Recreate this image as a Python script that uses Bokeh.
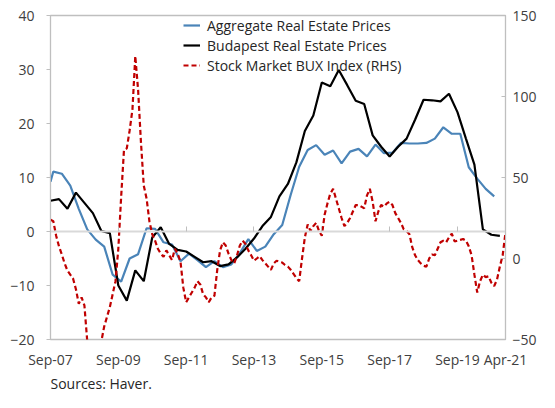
from bokeh.plotting import figure
from bokeh.models import (Range1d, LinearAxis, FixedTicker, Legend, LegendItem, Title)
from bokeh.embed import file_html
from bokeh.resources import INLINE

# ---- data (months counted from Sep-07) ----
tick_months = [0, 24, 48, 72, 96, 120, 144, 161]
tick_labels = ["Sep-07", "Sep-09", "Sep-11", "Sep-13", "Sep-15", "Sep-17", "Sep-19", "Apr-21"]
left_ticks = [-20, -10, 0, 10, 20, 30, 40]
right_ticks = [-50, 0, 50, 100, 150]

# Budapest real estate prices (quarterly, % y/y)
budapest = [5.7, 6.0, 4.2, 7.2, 5.3, 3.4, 0.1, -0.3, -10.0, -12.8,
            -7.2, -9.2, -1.1, 0.8, -2.3, -3.4, -3.7, -4.7, -5.7, -5.5,
            -6.4, -6.1, -4.8, -3.2, -1.3, 1.0, 2.7, 6.5, 8.8, 12.8,
            18.6, 21.5, 27.6, 26.9, 29.9, 27.1, 24.2, 23.6, 17.8, 15.7,
            13.9, 15.7, 17.2, 20.7, 24.4, 24.3, 24.1, 25.5, 22.1, 17.2,
            12.4, 0.4, -0.6, -0.8]
budapest_months = [3 * i for i in range(len(budapest))]

# Aggregate real estate prices (% y/y)
aggregate_months = [0, 1, 4, 7, 10, 13, 16, 19, 22, 25, 28, 31, 34, 37, 40, 43, 46, 49,
                    52, 55, 58, 61, 64, 67, 70, 73, 76, 79, 82, 85, 88, 91, 94, 97,
                    100, 103, 106, 109, 112, 115, 118, 121, 124, 127, 130, 133, 136,
                    139, 142, 145, 148, 151, 154, 157]
aggregate = [9.2, 11.1, 10.7, 8.5, 4.2, 0.4, -1.5, -2.8, -8.0, -9.3,
             -5.0, -4.2, 0.6, 0.5, -2.0, -2.4, -5.5, -4.1, -5.3, -6.6,
             -5.5, -6.6, -6.1, -4.0, -1.4, -3.6, -2.8, -0.5, 1.2, 6.8,
             12.0, 15.1, 16.0, 14.2, 15.0, 12.6, 14.8, 15.3, 13.9, 16.1,
             14.5, 14.6, 16.4, 16.3, 16.3, 16.4, 17.2, 19.3, 18.1, 18.1,
             11.9, 9.8, 7.9, 6.5]

# Stock market BUX index (monthly, % y/y, RHS)
bux = [24, 23, 14, 7.5, 2.5, -3, -7.5, -10, -12.5, -19,
       -28, -24, -29, -51, -52, -52, -52, -52, -51, -42,
       -36, -30, -22, -14, 6, 38, 67, 68, 79, 92,
       125, 104, 72, 45, 37, 23, 15, 11, 6, 3,
       1, 5, 2, -1, 6, 3, -2, -18, -27, -24,
       -21, -18, -14, -16, -22, -24, -27, -24, -23, -7,
       5, 10, 8, 3, -1, -3, 2, 8, 11, 9,
       5, 2, -1.4, 0, 1.5, -1, -3, -5, -7, -3,
       -1.4, -2, -2.5, -4, -5, -7, -9.5, -12, -14, 0,
       13, 21, 17, 20, 22, 17, 14, 27, 34, 40,
       43, 37, 31, 25, 20, 22, 25, 29, 33, 33,
       32, 31, 39, 43, 35, 23, 29, 33, 32, 34,
       35, 33, 28, 25, 22, 18, 17, 15, 7, 2,
       -1, -3, -4.5, -5, 0, 2.5, 2, 6, 10, 11,
       10, 13, 15.3, 10.5, 11, 11.5, 12, 11, 7.5, 2,
       -10, -21, -14, -10, -11.5, -11, -15, -17, -13, -5,
       2, 16]
bux_months = list(range(len(bux)))

FONT = "Open Sans"
TXT = "#404040"
GRAY = "#bfbfbf"
BLUE = "#4a84b8"
RED = "#c00000"

p = figure(width=539, height=392, output_backend="svg", toolbar_location=None,
           x_range=Range1d(tick_months[0], tick_months[-1]),
           y_range=Range1d(left_ticks[0], left_ticks[-1]),
           min_border_left=50, min_border_top=15, min_border_right=0, min_border_bottom=44)
p.extra_y_ranges = {"rhs": Range1d(right_ticks[0], right_ticks[-1])}
p.grid.visible = False
p.outline_line_color = GRAY
p.outline_line_width = 1.3
p.border_fill_color = "white"

xa = p.xaxis[0]
xa.ticker = FixedTicker(ticks=tick_months)
xa.major_label_overrides = {m: l for m, l in zip(tick_months, tick_labels)}
xa.major_tick_in = 0
xa.major_tick_out = 0
xa.minor_tick_in = 0
xa.minor_tick_out = 0
xa.axis_line_color = None
xa.major_label_standoff = 10
xa.major_label_text_font = FONT
xa.major_label_text_font_size = "14px"
xa.major_label_text_color = TXT

ya = p.yaxis[0]
ya.ticker = FixedTicker(ticks=left_ticks)
ya.major_tick_in = 0
ya.major_tick_out = 4
ya.minor_tick_in = 0
ya.minor_tick_out = 0
ya.axis_line_color = GRAY
ya.major_tick_line_color = GRAY
ya.major_label_standoff = 12
ya.major_label_text_font = FONT
ya.major_label_text_font_size = "14px"
ya.major_label_text_color = TXT

ra = LinearAxis(y_range_name="rhs", ticker=FixedTicker(ticks=right_ticks))
ra.major_tick_in = 4
ra.major_tick_out = 0
ra.minor_tick_in = 0
ra.minor_tick_out = 0
ra.axis_line_color = GRAY
ra.major_tick_line_color = GRAY
ra.major_label_standoff = 7
ra.major_label_text_font = FONT
ra.major_label_text_font_size = "14px"
ra.major_label_text_color = TXT
p.add_layout(ra, "right")

# horizontal axis line crossing at zero
za = LinearAxis(fixed_location=0, ticker=FixedTicker(ticks=tick_months))
za.major_label_overrides = {m: "" for m in tick_months}
za.major_label_text_font_size = "0px"
za.major_tick_in = 5
za.major_tick_out = 0
za.minor_tick_in = 0
za.minor_tick_out = 0
za.axis_line_color = "#d9d9d9"
za.axis_line_width = 2
za.major_tick_line_color = GRAY
p.add_layout(za, "below")

r_agg = p.line(aggregate_months, aggregate, line_color=BLUE, line_width=2.2)
r_bud = p.line(budapest_months, budapest, line_color="black", line_width=2.2)
r_bux = p.line(bux_months, bux, line_color=RED, line_width=2.2, line_dash="5 3",
               y_range_name="rhs")

legend = Legend(items=[
    LegendItem(label="Aggregate Real Estate Prices", renderers=[r_agg]),
    LegendItem(label="Budapest Real Estate Prices", renderers=[r_bud]),
    LegendItem(label="Stock Market BUX Index (RHS)", renderers=[r_bux]),
], location=(133, 264))
legend.background_fill_alpha = 0
legend.border_line_color = None
legend.label_text_font = FONT
legend.label_text_font_size = "14px"
legend.label_text_color = "#262626"
legend.glyph_width = 17
legend.glyph_height = 20
legend.label_height = 20
legend.label_standoff = 7
legend.spacing = 0
legend.padding = 0
legend.margin = 0
p.add_layout(legend)

src = Title(text="Sources: Haver.", align="left", text_font=FONT, text_font_size="14px",
            text_font_style="normal", text_color="#262626", standoff=0)
p.add_layout(src, "below")

open("out.html", "w").write(file_html(p, INLINE))
